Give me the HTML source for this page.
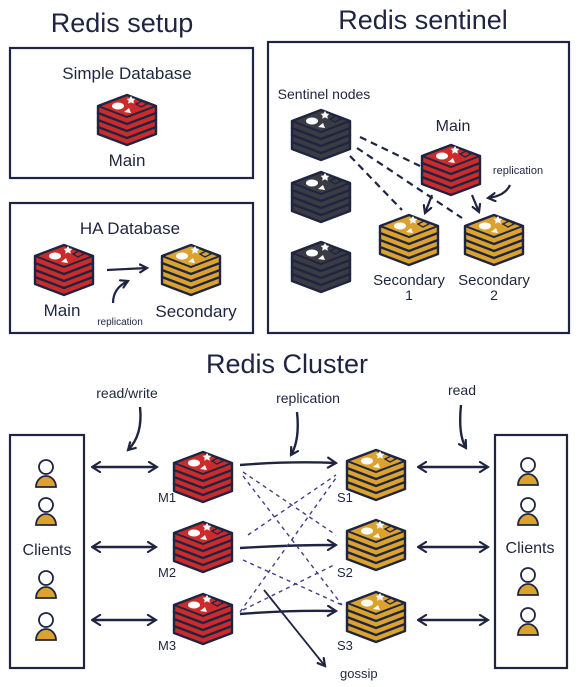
<!DOCTYPE html>
<html><head><meta charset="utf-8"><style>
html,body{margin:0;padding:0;background:#fff;}
svg{display:block;}
text{font-family:"Liberation Sans",sans-serif;fill:#1f2540;}
</style></head><body>
<svg width="578" height="687" viewBox="0 0 578 687" xmlns="http://www.w3.org/2000/svg">
<defs>
<marker id="ah" markerWidth="10" markerHeight="10" refX="8" refY="5" orient="auto" markerUnits="userSpaceOnUse"><path d="M1,1 L8,5 L1,9" fill="none" stroke="#1f2540" stroke-width="2.2" stroke-linecap="round"/></marker>
<marker id="as" markerWidth="12" markerHeight="12" refX="1" refY="6" orient="auto" markerUnits="userSpaceOnUse"><path d="M9,1 L1,6 L9,11" fill="none" stroke="#1f2540" stroke-width="2.2" stroke-linecap="round"/></marker>
<marker id="ae" markerWidth="12" markerHeight="12" refX="10" refY="6" orient="auto" markerUnits="userSpaceOnUse"><path d="M2,1 L10,6 L2,11" fill="none" stroke="#1f2540" stroke-width="2.2" stroke-linecap="round"/></marker>
<g id="layer">
<path d="M2,14 L31,3 L60,14 L60,21 L31,32 L2,21 Z" stroke="#1f2540" stroke-width="2.4" stroke-linejoin="round"/>
</g>
<symbol id="ic" viewBox="0 0 62 56">
<use href="#layer" y="21"/><use href="#layer" y="14"/><use href="#layer" y="7"/>
<path d="M2,14 L31,3 L60,14 L60,21 L31,32 L2,21 Z" stroke="#1f2540" stroke-width="2.4" stroke-linejoin="round"/>
<path d="M2,14 L31,25 L60,14" fill="none" stroke="#1f2540" stroke-width="2"/>
<ellipse cx="22" cy="14" rx="6" ry="3.5" fill="#fff"/>
<path d="M35,4 l1.5,2.5 2.8,0.4 -2,2 0.5,2.8 -2.8,-1.4 -2.8,1.4 0.5,-2.8 -2,-2 2.8,-0.4z" fill="#fff"/>
<path d="M33,16 L28,20 L35,21 Z" fill="#fff"/>
<path d="M40,12 L46,9 L51,12 L45,15 Z" fill="none" stroke="#1f2540" stroke-width="1.3"/>
</symbol>
<g id="person"><circle cx="0" cy="-8" r="7" fill="#fff" stroke="#1f2540" stroke-width="1.8"/><path d="M-10,12 A10,11 0 0 1 10,12 Z" fill="#dba22e" stroke="#1f2540" stroke-width="1.8"/></g>
</defs>

<text x="122" y="32" font-size="27" text-anchor="middle">Redis setup</text>
<text x="423" y="29" font-size="27" text-anchor="middle">Redis sentinel</text>
<text x="287" y="373" font-size="27" text-anchor="middle">Redis Cluster</text>

<g fill="none" stroke="#1f2540" stroke-width="2.2">
<rect x="10" y="48" width="243" height="130"/>
<rect x="10" y="203" width="243" height="130"/>
<rect x="268" y="42" width="301" height="291"/>
<rect x="10" y="435" width="74" height="233"/>
<rect x="495" y="435" width="72" height="233"/>
</g>

<text x="127" y="79" font-size="17" text-anchor="middle">Simple Database</text>
<use href="#ic" x="96" y="92" width="62" height="56" fill="#cc2b2b"/>
<text x="127" y="166" font-size="17" text-anchor="middle">Main</text>

<text x="130" y="234" font-size="17" text-anchor="middle">HA Database</text>
<use href="#ic" x="33" y="242" width="62" height="56" fill="#cc2b2b"/>
<use href="#ic" x="160" y="242" width="62" height="56" fill="#dba22e"/>
<text x="62" y="316" font-size="17" text-anchor="middle">Main</text>
<text x="196" y="317" font-size="17" text-anchor="middle">Secondary</text>
<text x="120" y="325" font-size="10" text-anchor="middle">replication</text>
<g fill="none" stroke="#1f2540" stroke-width="2.2">
<path d="M107,270 L147,268" marker-end="url(#ah)"/>
<path d="M113,303 Q113,288 128,281" marker-end="url(#ah)"/>
</g>

<text x="324" y="99" font-size="14" text-anchor="middle">Sentinel nodes</text>
<use href="#ic" x="290" y="107" width="62" height="56" fill="#3b3b44"/>
<use href="#ic" x="290" y="169" width="62" height="56" fill="#3b3b44"/>
<use href="#ic" x="290" y="239" width="62" height="56" fill="#3b3b44"/>
<text x="453" y="131" font-size="16" text-anchor="middle">Main</text>
<g fill="none" stroke="#1f2540" stroke-width="2.2" stroke-dasharray="7,5">
<path d="M360,137 L420,166"/>
<path d="M357,148 L462,218"/>
<path d="M350,156 L402,210"/>
</g>
<use href="#ic" x="420" y="142" width="62" height="56" fill="#cc2b2b"/>
<use href="#ic" x="378" y="212" width="62" height="56" fill="#dba22e"/>
<use href="#ic" x="463" y="212" width="62" height="56" fill="#dba22e"/>
<text x="518" y="174" font-size="11" text-anchor="middle">replication</text>
<g fill="none" stroke="#1f2540" stroke-width="2.2">
<path d="M432,195 L425,213" marker-end="url(#ah)"/>
<path d="M472,195 L479,212" marker-end="url(#ah)"/>
<path d="M510,185 Q505,196 488,198" marker-end="url(#ah)"/>
</g>
<text x="409" y="285" font-size="15" text-anchor="middle">Secondary</text>
<text x="409" y="300" font-size="14" text-anchor="middle">1</text>
<text x="494" y="285" font-size="15" text-anchor="middle">Secondary</text>
<text x="494" y="300" font-size="14" text-anchor="middle">2</text>

<text x="127" y="398" font-size="14" text-anchor="middle">read/write</text>
<text x="308" y="403" font-size="14" text-anchor="middle">replication</text>
<text x="462" y="395" font-size="14" text-anchor="middle">read</text>
<g fill="none" stroke="#1f2540" stroke-width="2.4">
<path d="M140,407 Q143,435 128,450" marker-end="url(#ah)"/>
<path d="M297,412 Q300,440 291,455" marker-end="url(#ah)"/>
<path d="M461,405 Q458,435 466,448" marker-end="url(#ah)"/>
<path d="M92,467 L157,467" marker-start="url(#as)" marker-end="url(#ae)"/>
<path d="M92,547 L156,547" marker-start="url(#as)" marker-end="url(#ae)"/>
<path d="M92,620 L156,620" marker-start="url(#as)" marker-end="url(#ae)"/>
<path d="M418,467 L488,467" marker-start="url(#as)" marker-end="url(#ae)"/>
<path d="M418,547 L488,547" marker-start="url(#as)" marker-end="url(#ae)"/>
<path d="M418,620 L488,620" marker-start="url(#as)" marker-end="url(#ae)"/>
<path d="M240,465 Q290,461 336,463" marker-end="url(#ae)"/>
<path d="M240,548 Q290,545 336,545" marker-end="url(#ae)"/>
<path d="M240,614 Q290,610 336,611" marker-end="url(#ae)"/>
</g>
<g fill="none" stroke="#4a3a8a" stroke-width="1.4" stroke-dasharray="4,4">
<path d="M243,472 L336,535"/>
<path d="M243,476 L342,605"/>
<path d="M248,535 L336,475"/>
<path d="M243,560 L342,605"/>
<path d="M240,612 L336,478"/>
<path d="M243,610 L336,564"/>
</g>
<path d="M264,590 L325,666" fill="none" stroke="#1f2540" stroke-width="1.8" marker-end="url(#ah)"/>
<text x="340" y="678" font-size="13">gossip</text>

<use href="#ic" x="172" y="449" width="62" height="56" fill="#cc2b2b"/>
<use href="#ic" x="172" y="519" width="62" height="56" fill="#cc2b2b"/>
<use href="#ic" x="172" y="591" width="62" height="56" fill="#cc2b2b"/>
<use href="#ic" x="345" y="447" width="62" height="56" fill="#dba22e"/>
<use href="#ic" x="345" y="517" width="62" height="56" fill="#dba22e"/>
<use href="#ic" x="345" y="589" width="62" height="56" fill="#dba22e"/>
<g font-size="13">
<text x="158" y="502">M1</text><text x="158" y="577">M2</text><text x="158" y="650">M3</text>
<text x="337" y="502">S1</text><text x="337" y="577">S2</text><text x="337" y="650">S3</text>
</g>

<use href="#person" x="46" y="475"/>
<use href="#person" x="46" y="513"/>
<use href="#person" x="46" y="586"/>
<use href="#person" x="46" y="628"/>
<text x="47" y="555" font-size="16" text-anchor="middle">Clients</text>
<use href="#person" x="528" y="473"/>
<use href="#person" x="528" y="513"/>
<use href="#person" x="528" y="583"/>
<use href="#person" x="528" y="623"/>
<text x="530" y="553" font-size="16" text-anchor="middle">Clients</text>
</svg>
</body></html>
